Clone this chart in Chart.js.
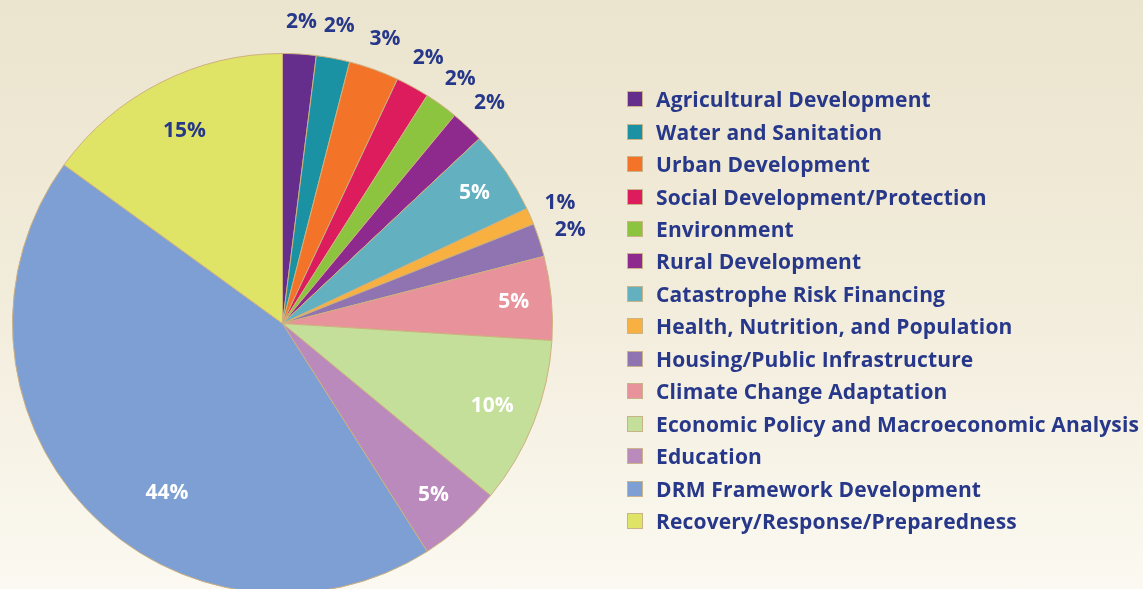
<!DOCTYPE html>
<html>
<head>
<meta charset="utf-8">
<script src="https://cdn.jsdelivr.net/npm/chart.js@4.4.1/dist/chart.umd.min.js"></script>
<style>
  html, body { margin: 0; padding: 0; width: 1143px; height: 589px; overflow: hidden; }
  body {
    position: relative;
    background: linear-gradient(to bottom, #ebe4ce 0%, #f2ecdb 50%, #fbf9f1 100%);
    font-family: 'Open Sans', sans-serif;
  }
  #pie { position: absolute; left: 0; top: 0; }
  #legend { position: absolute; left: 627px; top: 83px; margin: 0; padding: 0; list-style: none; }
  #legend li { display: flex; align-items: center; height: 32.46px; }
  #legend .sw { box-sizing: border-box; width: 16px; height: 16px; border: 1px solid #c9b489; margin-right: 13px; flex: none; }
  #legend .tx { color: #27388a; font-weight: 700; font-size: 21px; letter-spacing: 0.15px; white-space: nowrap; }
</style>
</head>
<body>
<canvas id="pie" width="1143" height="600"></canvas>
<ul id="legend"></ul>
<script>
// Practice areas and their share of the portfolio (%)
const categories = [
  'Agricultural Development',
  'Water and Sanitation',
  'Urban Development',
  'Social Development/Protection',
  'Environment',
  'Rural Development',
  'Catastrophe Risk Financing',
  'Health, Nutrition, and Population',
  'Housing/Public Infrastructure',
  'Climate Change Adaptation',
  'Economic Policy and Macroeconomic Analysis',
  'Education',
  'DRM Framework Development',
  'Recovery/Response/Preparedness'
];
const shares = [2, 2, 3, 2, 2, 2, 5, 1, 2, 5, 10, 5, 44, 15];

const sliceColors = [
  '#652d8c', '#1b92a3', '#f37329', '#dc1c5c', '#8cc43f', '#8e2a8e', '#62b0c0',
  '#f8b040', '#9074b2', '#e8929b', '#c4df9a', '#ba8abd', '#7d9fd3', '#e0e466'
];

const NAVY = '#27388a';
const WHITE = '#ffffff';
// value label styling: colour, distance from centre (fraction of radius), angular nudge (deg)
const labelColors = [NAVY, NAVY, NAVY, NAVY, NAVY, NAVY, WHITE, NAVY, NAVY, WHITE, WHITE, WHITE, WHITE, NAVY];
const labelRadius = [1.12, 1.12, 1.12, 1.12, 1.12, 1.12, 0.86, 1.12, 1.12, 0.86, 0.835, 0.845, 0.76, 0.80];
const labelNudge  = [0, 0, 0, 0, 0, 0, 0, 0, 0, 0, 0, 0, -12.5, 0];

const sliceLabels = {
  id: 'sliceLabels',
  afterDatasetsDraw(chart, args, opts) {
    const ctx = chart.ctx;
    const meta = chart.getDatasetMeta(0);
    const values = chart.data.datasets[0].data;
    ctx.save();
    ctx.font = opts.font;
    ctx.textAlign = 'center';
    ctx.textBaseline = 'middle';
    meta.data.forEach((arc, i) => {
      const p = arc.getProps(['x', 'y', 'startAngle', 'endAngle', 'outerRadius'], true);
      const mid = (p.startAngle + p.endAngle) / 2 + opts.nudge[i] * Math.PI / 180;
      const r = p.outerRadius * opts.radius[i];
      ctx.fillStyle = opts.colors[i];
      ctx.fillText(values[i] + '%', p.x + Math.cos(mid) * r, p.y + Math.sin(mid) * r);
    });
    ctx.restore();
  }
};

// Legend list rendered as HTML from the chart's own legend items
const htmlLegend = {
  id: 'htmlLegend',
  afterUpdate(chart) {
    const ul = document.getElementById('legend');
    ul.innerHTML = '';
    const items = chart.options.plugins.legend.labels.generateLabels(chart);
    items.forEach(item => {
      const li = document.createElement('li');
      const sw = document.createElement('span');
      sw.className = 'sw';
      sw.style.background = item.fillStyle;
      const tx = document.createElement('span');
      tx.className = 'tx';
      tx.textContent = item.text;
      li.appendChild(sw);
      li.appendChild(tx);
      ul.appendChild(li);
    });
  }
};

new Chart(document.getElementById('pie'), {
  type: 'pie',
  data: {
    labels: categories,
    datasets: [{
      data: shares,
      backgroundColor: sliceColors,
      borderColor: '#cdb07e',
      borderWidth: 1
    }]
  },
  options: {
    responsive: false,
    animation: false,
    layout: { padding: { left: 12, top: 53, right: 590, bottom: 6 } },
    plugins: {
      legend: { display: false },
      tooltip: { enabled: false },
      sliceLabels: {
        font: "700 21px 'Open Sans'",
        colors: labelColors,
        radius: labelRadius,
        nudge: labelNudge
      }
    }
  },
  plugins: [sliceLabels, htmlLegend]
});
</script>
</body>
</html>
